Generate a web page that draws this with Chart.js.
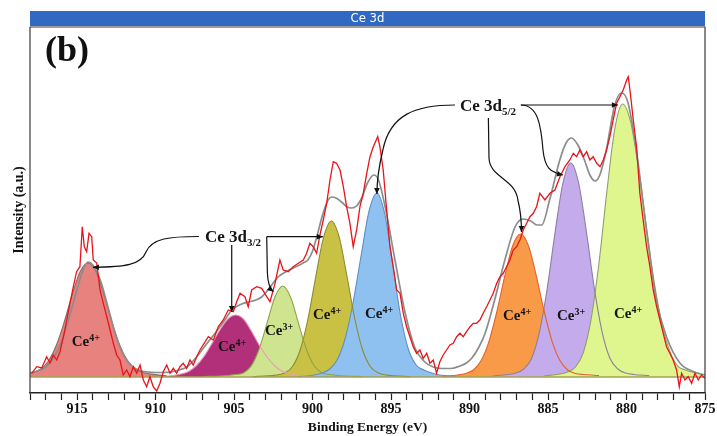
<!DOCTYPE html>
<html>
<head>
<meta charset="utf-8">
<script src="https://cdn.jsdelivr.net/npm/chart.js@4.4.1/dist/chart.umd.min.js"></script>
<style>
  html, body { margin: 0; padding: 0; background: #ffffff; }
  canvas { display: block; }
</style>
</head>
<body>
<canvas id="xps" width="717" height="436"></canvas>
<script>
// ---------------- Ce 3d core-level spectrum ----------------

// Measured spectrum: binding energy (eV) and intensity (a.u.)
const bindingEnergy = [
  917.89, 917.57, 917.25, 916.94, 916.73, 916.52, 916.30, 916.09, 915.82, 915.66,
  915.45, 915.24, 915.03, 914.82, 914.67, 914.54, 914.39, 914.24, 914.07, 913.97,
  913.75, 913.54, 913.33, 913.11, 912.90, 912.69, 912.48, 912.27, 912.06, 911.84,
  911.63, 911.42, 911.20, 910.99, 910.78, 910.57, 910.36, 910.15, 909.93, 909.72,
  909.51, 909.29, 909.08, 908.87, 908.66, 908.45, 908.24, 908.02, 907.81, 907.60,
  907.38, 907.17, 906.64, 906.32, 906.01, 905.69, 905.37, 905.05, 904.83, 904.62,
  904.31, 904.10, 903.88, 903.56, 903.24, 902.92, 902.71, 902.39, 902.08, 901.87,
  901.55, 901.23, 900.91, 900.59, 900.38, 900.17, 899.96, 899.74, 899.53, 899.32,
  899.10, 898.89, 898.68, 898.47, 898.25, 898.04, 897.83, 897.62, 897.41, 897.19,
  896.98, 896.77, 896.55, 896.34, 896.13, 895.85, 895.71, 895.50, 895.28, 895.07,
  894.86, 894.64, 894.43, 894.22, 894.01, 893.80, 893.59, 893.37, 893.16, 892.95,
  892.73, 892.52, 892.31, 892.10, 891.89, 891.68, 891.46, 891.25, 891.04, 890.82,
  890.61, 890.40, 890.19, 889.97, 889.76, 889.55, 889.34, 889.13, 888.91, 888.70,
  888.49, 888.27, 888.06, 887.85, 887.64, 887.43, 887.22, 887.00, 886.79, 886.58,
  886.36, 886.15, 885.94, 885.73, 885.52, 885.20, 884.88, 884.56, 884.24, 883.92,
  883.61, 883.39, 883.18, 882.97, 882.76, 882.54, 882.33, 882.12, 881.90, 881.69,
  881.48, 881.27, 881.06, 880.85, 880.63, 880.42, 880.21, 879.99, 879.89, 879.78,
  879.57, 879.36, 879.15, 878.94, 878.72, 878.51, 878.30, 878.08, 877.87, 877.66,
  877.45, 877.24, 877.03, 876.81, 876.64, 876.49, 876.28, 876.07, 875.85, 875.64,
  875.43, 875.22, 875.00
];
const measuredIntensity = [
  3.7, 10.3, 9, 20.3, 14, 22, 17, 25.3, 44, 57,
  74, 90.3, 105.3, 110.3, 150.3, 130.3, 125.3, 143.7, 140.3, 117,
  114, 87, 73.7, 60.3, 47, 33.7, 22, 17, 2, 7,
  0.3, 10.3, 3.7, 12, -3, -9.7, 0.3, -9.7, -14, -6.3,
  5.3, 12, 3.7, 8.7, 3.7, 10.3, 13.7, 8.7, 17, 12,
  20.3, 27, 40.3, 37, 50.3, 57, 67, 65.3, 75.3, 83.7,
  80.3, 70.3, 87, 90.3, 88.7, 80.3, 75.3, 93.7, 117, 107,
  105.3, 110.3, 113.7, 117, 123.7, 133.7, 130.3, 123.7, 142, 157,
  173.7, 197, 215.3, 213.7, 207, 190.3, 170.3, 153.7, 130.3, 147,
  170.3, 183.7, 203.7, 220.3, 230.3, 240.3, 230.3, 207, 167, 130.3,
  110.3, 87, 83.7, 63.7, 50.3, 40.3, 30.3, 23.7, 27, 18.7,
  23.7, 13.7, 17, 3.7, 15.3, 22, 27, 32, 33.7, 40.3,
  43.7, 40.3, 45.3, 50.3, 53.7, 53.7, 57, 63.7, 70.3, 77,
  83.7, 93.7, 100.3, 103.7, 110.3, 117, 127, 130.3, 137, 147,
  153.7, 160.3, 163.7, 170.3, 183.7, 177, 183.7, 187, 200.3, 210.3,
  217, 223.7, 220.3, 227, 220.3, 225.3, 217, 220.3, 213.7, 210.3,
  217, 227, 240.3, 257, 273.7, 280.3, 287, 297, 300.3, 287,
  257, 230.3, 183.7, 157, 130.3, 110.3, 87, 70.3, 57, 43.7,
  30.3, 23.7, 17, 7, -9.7, 3.7, -3, 0.3, -6.3, 3.7,
  -3, 2, -1.3
];

// Fitted envelope (sum of components plus background)
const envelopeEnergy = [
  918.0, 917.5, 917.0, 916.5, 916.0, 915.5, 915.0, 914.6, 914.3, 914.0,
  913.5, 913.0, 912.5, 912.0, 911.5, 911.0, 910.5, 910.0, 909.5, 909.0,
  908.5, 908.0, 907.5, 907.0, 906.5, 906.2, 905.5, 905.15, 904.5, 904.1,
  903.6, 903.24, 902.7, 902.2, 901.6, 901.1, 900.6, 900.3, 900.0, 899.7,
  899.4, 899.1, 898.8, 898.5, 898.15, 897.8, 897.5, 897.2, 896.9, 896.5,
  896.1, 895.8, 895.4, 894.75, 894.1, 893.5, 892.85, 892.3, 891.8, 891.2,
  890.7, 890.2, 889.85, 889.4, 889.0, 888.4, 887.75, 887.1, 886.6, 886.1,
  885.7, 885.4, 884.9, 884.25, 883.85, 883.5, 883.1, 882.75, 882.3, 882.0,
  881.7, 881.3, 880.75, 880.3, 879.9, 879.35, 878.7, 878.1, 877.45, 876.6,
  875.75, 875.0
];
const envelopeIntensity = [
  4, 6, 10, 19, 35, 60, 88, 108, 115, 112,
  96, 68, 40, 21, 11, 6.5, 5, 4.5, 4.5, 5,
  7, 10, 18, 28, 38, 44, 59, 67, 73, 75,
  77, 80, 90, 100, 106, 110, 114, 117, 126, 142,
  160, 174, 180, 179, 175, 170, 169, 171, 178, 194,
  202, 197, 172, 117, 64, 30, 15, 10, 8.5, 8.5,
  10.5, 14, 19, 30, 44, 77, 117, 150, 158, 156,
  152, 152, 177, 217, 234, 239, 232, 220, 201, 196,
  202, 226, 272, 284, 274, 224, 144, 77, 40, 14,
  5.5, 2
];

// Fitted components: centre (eV), chemical state and profile values
// sampled at centre + profileOffsets (high to low binding energy)
const componentCenters = [914.3, 904.9, 901.9, 898.8, 895.9, 886.75, 883.55, 880.25];
const componentStates = ['4+', '4+', '3+', '4+', '4+', '4+', '3+', '4+'];
const profileOffsets = [5, 4, 3.5, 3, 2.5, 2, 1.5, 1, 0.5, 0, -0.5, -1, -1.5, -2, -2.5, -3, -3.5, -4, -5];

const ce4_914 = [1.1, 2.9, 4.6, 8, 16.5, 32.5, 56, 83, 105.5, 114, 105.5, 83, 56, 32.5, 16.5, 8, 4.6, 2.9, 1.1];
const ce4_905 = [0.5, 1.5, 3, 5.5, 11.5, 21, 33.8, 47.3, 58, 62, 58, 46, 32, 20, 11, 5.5, 3, 1.5, 0.5];
const ce3_902 = [0.4, 1, 1.5, 2.5, 4, 11.2, 28, 53.9, 79.8, 91, 79.8, 53.9, 28, 11.2, 4, 2.5, 1.5, 1, 0.4];
const ce4_899 = [0.4, 1.2, 2, 4, 10, 26.5, 57.5, 100, 139.6, 156, 139.6, 100, 57.5, 26.5, 10, 4, 2, 1.2, 0.4];
const ce4_896 = [0.5, 2, 4, 8, 18, 40, 76, 122, 166, 184, 163, 113, 62, 28, 12, 7, 4, 2, 0.5];
const ce4_887 = [0.6, 2, 3.5, 7, 16.7, 36.2, 66, 101.4, 131.3, 143, 131.3, 101.4, 66, 36.2, 16.7, 7, 3.5, 2.5, 1.5];
const ce3_884 = [1, 2.5, 4, 8, 18.5, 44.7, 88.7, 144.7, 194, 214, 194, 144.7, 88.7, 44.7, 18.5, 8, 4, 2.5, 1.5];
const ce4_880 = [1, 3, 5, 10, 24.4, 58.3, 114.5, 185.6, 247.9, 273, 255.8, 210.3, 151.8, 96.2, 53.5, 26.1, 11.2, 7, 3];

const componentProfiles = [ce4_914, ce4_905, ce3_902, ce4_899, ce4_896, ce4_887, ce3_884, ce4_880];

// ---------------- styling ----------------
const fillColors = ['#E8827E', '#B2307A', '#CFE48E', '#C9C143', '#8EC0F0', '#F99A48', '#C4ABEC', '#DFF58E'];
const lineColors = ['#8A6A62', '#E79BBE', '#8FA347', '#8D8B33', '#5E8FC8', '#E2622E', '#8C7FA3', '#939F6A'];

// state label anchors (eV, intensity of text baseline)
const stateLabelEnergy = [915.34, 906.03, 903.03, 899.97, 896.66, 887.87, 884.43, 880.80];
const stateLabelLevel = [31, 26, 42.5, 58.5, 59.5, 57.5, 57.5, 59.5];

// spin-orbit callouts, in (eV, intensity) space
const calloutPaths = [
  [['M', 907.24, 140.5], ['C', 909.08, 140.5, 910.23, 139, 910.61, 125], ['C', 910.93, 112, 911.95, 110, 913.99, 109.7]],
  [['M', 905.15, 132], ['L', 905.15, 65]],
  [['M', 902.92, 140.3], ['L', 899.34, 140.3]],
  [['M', 902.92, 140.3], ['L', 902.88, 105], ['C', 902.86, 95, 902.7, 88, 902.5, 85.3]],
  [['M', 890.93, 272], ['C', 893.48, 272, 895.07, 262, 895.52, 227], ['C', 895.83, 207, 895.90, 195, 895.90, 183]],
  [['M', 888.80, 259], ['L', 888.76, 219], ['C', 888.71, 199, 887.11, 199, 886.92, 177], ['C', 886.73, 165, 886.69, 155, 886.69, 145]],
  [['M', 886.73, 272], ['L', 880.55, 272]],
  [['M', 886.73, 272], ['C', 885.64, 272, 885.45, 252, 885.32, 227], ['C', 885.20, 209, 884.88, 205, 884.05, 202]]
];
const doubletLabels = [
  { main: 'Ce 3d', sub: '3/2', e: 906.85, level: 135.5 },
  { main: 'Ce 3d', sub: '5/2', e: 890.61, level: 266.3 }
];

const SERIF = '"Liberation Serif", "Times New Roman", serif';

// ---------------- datasets ----------------
const datasets = [];
datasets.push({
  label: 'Measured',
  data: bindingEnergy.map((e, i) => ({ x: e, y: measuredIntensity[i] })),
  borderColor: '#E8141A', borderWidth: 1.3, pointRadius: 0, fill: false, tension: 0, order: 0
});
datasets.push({
  label: 'Envelope',
  data: envelopeEnergy.map((e, i) => ({ x: e, y: envelopeIntensity[i] })),
  borderColor: '#8C8C8C', borderWidth: 1.7, pointRadius: 0, fill: false,
  cubicInterpolationMode: 'monotone', order: 1
});
datasets.push({
  label: 'Baseline',
  data: [{ x: 918, y: 0 }, { x: 875, y: 0 }],
  borderColor: '#A4A052', borderWidth: 1.6, pointRadius: 0, fill: false, order: 2
});
componentProfiles.forEach((prof, k) => {
  const pts = profileOffsets.map((d, i) => ({ x: componentCenters[k] + d, y: prof[i] }));
  // outline, drawn above every fill
  datasets.push({
    label: 'Ce' + componentStates[k] + ' outline ' + k,
    data: pts, borderColor: lineColors[k], borderWidth: 1.1, pointRadius: 0, fill: false,
    cubicInterpolationMode: 'monotone', order: 3
  });
  // filled area, later components over earlier ones
  datasets.push({
    label: 'Ce' + componentStates[k] + ' ' + componentCenters[k],
    data: pts, borderWidth: 0, borderColor: 'rgba(0,0,0,0)', backgroundColor: fillColors[k],
    pointRadius: 0, fill: 'origin', cubicInterpolationMode: 'monotone', order: 20 - k
  });
});

// ---------------- decorations ----------------
function drawArrowHead(ctx, x, y, ang) {
  const len = 6, half = 2.8;
  ctx.beginPath();
  ctx.moveTo(x, y);
  ctx.lineTo(x - len * Math.cos(ang) + half * Math.sin(ang), y - len * Math.sin(ang) - half * Math.cos(ang));
  ctx.lineTo(x - len * Math.cos(ang) - half * Math.sin(ang), y - len * Math.sin(ang) + half * Math.cos(ang));
  ctx.closePath();
  ctx.fill();
}

const decor = {
  id: 'decor',
  beforeDraw(chart) {
    const ctx = chart.ctx;
    ctx.save();
    ctx.fillStyle = '#ffffff';
    ctx.fillRect(0, 0, chart.width, chart.height);
    ctx.restore();
  },
  afterDraw(chart) {
    const ctx = chart.ctx;
    const a = chart.chartArea;
    const xs = chart.scales.x, ys = chart.scales.y;
    const P = (e, v) => [xs.getPixelForValue(e), ys.getPixelForValue(v)];

    ctx.save();
    // header band
    ctx.fillStyle = '#3068C4';
    ctx.fillRect(a.left, a.top - 16, a.right - a.left, 15);
    ctx.fillStyle = '#ffffff';
    ctx.font = '13px "DejaVu Sans Condensed", Roboto, "DejaVu Sans", sans-serif';
    ctx.textAlign = 'center';
    ctx.textBaseline = 'middle';
    ctx.fillText('Ce 3d', (a.left + a.right) / 2, a.top - 8.5);

    // frame
    ctx.strokeStyle = '#3a3a3a';
    ctx.lineWidth = 1.2;
    ctx.beginPath();
    ctx.moveTo(a.left, a.bottom); ctx.lineTo(a.left, a.top);
    ctx.lineTo(a.right, a.top); ctx.lineTo(a.right, a.bottom);
    ctx.stroke();

    // panel tag
    ctx.fillStyle = '#111111';
    ctx.font = 'bold 36px ' + SERIF;
    ctx.textAlign = 'left';
    ctx.textBaseline = 'alphabetic';
    ctx.fillText('(b)', a.left + 15, a.top + 34);

    // y axis title
    ctx.save();
    ctx.translate(19, (a.top + a.bottom) / 2);
    ctx.rotate(-Math.PI / 2);
    ctx.textAlign = 'center';
    ctx.textBaseline = 'middle';
    ctx.font = 'bold 14px ' + SERIF;
    ctx.fillText('Intensity (a.u.)', 0, 0);
    ctx.restore();

    // chemical state labels
    componentStates.forEach((st, k) => {
      const [x, y] = P(stateLabelEnergy[k], stateLabelLevel[k]);
      ctx.font = 'bold 15px ' + SERIF;
      ctx.textAlign = 'left';
      ctx.fillStyle = '#151515';
      ctx.fillText('Ce', x, y);
      const w = ctx.measureText('Ce').width;
      ctx.font = 'bold 10px ' + SERIF;
      ctx.fillText(st, x + w, y - 5);
    });

    // doublet labels
    doubletLabels.forEach(l => {
      const [x, y] = P(l.e, l.level);
      ctx.font = 'bold 17px ' + SERIF;
      ctx.fillText(l.main, x, y);
      const w = ctx.measureText(l.main).width;
      ctx.font = 'bold 11px ' + SERIF;
      ctx.fillText(l.sub, x + w, y + 4);
    });

    // callout curves with arrow heads
    ctx.strokeStyle = '#111111';
    ctx.fillStyle = '#111111';
    ctx.lineWidth = 1.2;
    calloutPaths.forEach(path => {
      ctx.beginPath();
      let prev = null, last = null;
      path.forEach(cmd => {
        if (cmd[0] === 'M') {
          last = P(cmd[1], cmd[2]); ctx.moveTo(last[0], last[1]);
        } else if (cmd[0] === 'L') {
          prev = last; last = P(cmd[1], cmd[2]); ctx.lineTo(last[0], last[1]);
        } else {
          const c1 = P(cmd[1], cmd[2]), c2 = P(cmd[3], cmd[4]);
          last = P(cmd[5], cmd[6]); prev = c2;
          ctx.bezierCurveTo(c1[0], c1[1], c2[0], c2[1], last[0], last[1]);
        }
      });
      ctx.stroke();
      const ang = Math.atan2(last[1] - prev[1], last[0] - prev[0]);
      drawArrowHead(ctx, last[0], last[1], ang);
    });
    ctx.restore();
  }
};

new Chart(document.getElementById('xps'), {
  type: 'line',
  data: { datasets },
  options: {
    responsive: false,
    animation: false,
    devicePixelRatio: 1,
    layout: { padding: { left: 30, right: 12, top: 27, bottom: 0 } },
    plugins: { legend: { display: false }, tooltip: { enabled: false } },
    scales: {
      x: {
        type: 'linear', min: 875, max: 918, reverse: true,
        ticks: {
          stepSize: 1, autoSkip: false, maxRotation: 0, padding: 1,
          color: '#111111', font: { family: SERIF, size: 14, weight: 'bold' },
          callback: v => (v % 5 === 0 ? String(v) : '')
        },
        grid: { display: true, drawOnChartArea: false, drawTicks: true, tickLength: 7, tickColor: '#222222', tickWidth: 1.2 },
        border: { display: true, color: '#222222', width: 1.5 },
        title: {
          display: true, text: 'Binding Energy (eV)', color: '#111111',
          font: { family: SERIF, size: 13.5, weight: 'bold' }, padding: { top: 1, bottom: 0 }
        },
        afterFit: s => { s.height = 43; }
      },
      y: {
        display: false, min: -16, max: 350
      }
    }
  },
  plugins: [decor]
});
</script>
</body>
</html>
